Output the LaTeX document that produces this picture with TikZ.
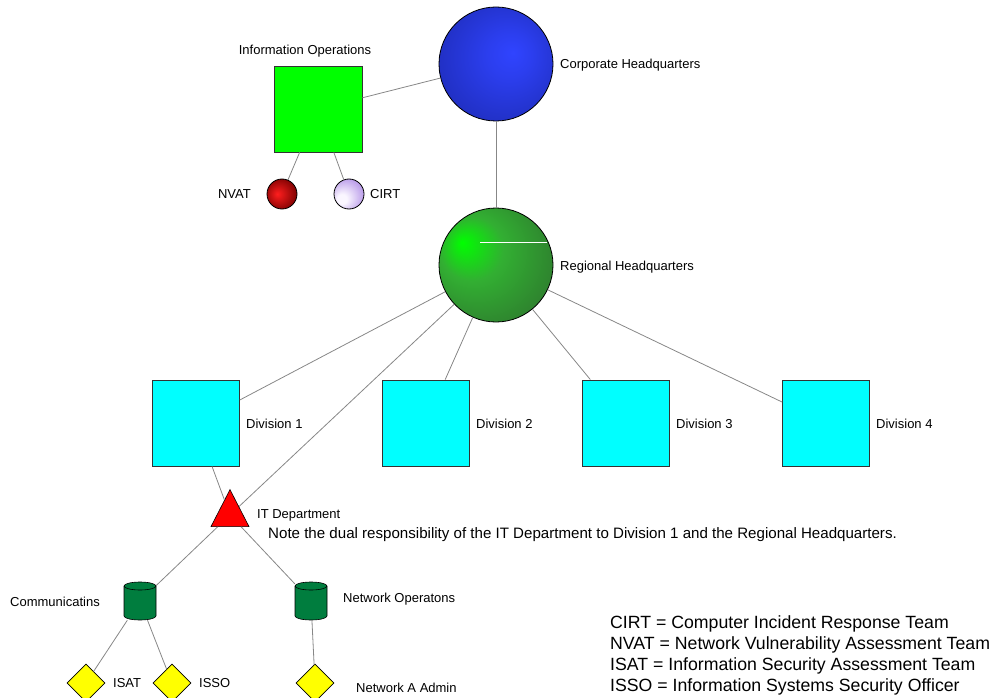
\documentclass[tikz,border=0pt]{standalone}
\usepackage{fontspec}
\setmainfont{Liberation Sans}
\usetikzlibrary{shapes.geometric}
\definecolor{lineGray}{RGB}{135,135,135}
\definecolor{opsGreen}{RGB}{0,255,0}
\definecolor{divCyan}{RGB}{0,255,255}
\definecolor{drumGreen}{RGB}{0,125,62}
\definecolor{adminYellow}{RGB}{255,255,0}
\definecolor{itRed}{RGB}{255,0,0}
\definecolor{corpLight}{RGB}{48,68,255}
\definecolor{corpDark}{RGB}{30,44,185}
\definecolor{regLight}{RGB}{0,255,0}
\definecolor{regMid}{RGB}{50,175,50}
\definecolor{regDark}{RGB}{45,110,45}
\definecolor{nvatLight}{RGB}{255,30,30}
\definecolor{nvatDark}{RGB}{120,0,0}
\definecolor{cirtLight}{RGB}{250,246,255}
\definecolor{cirtDark}{RGB}{160,120,225}

\pgfdeclareradialshading{corpShade}{\pgfpoint{7.5bp}{5bp}}{color(0bp)=(corpLight); color(10bp)=(corpLight!75!corpDark); color(34bp)=(corpDark); color(50bp)=(corpDark)}
\pgfdeclareradialshading{regShade}{\pgfpoint{-15bp}{10bp}}{color(0bp)=(regLight); color(14bp)=(regMid); color(40bp)=(regDark); color(50bp)=(regDark)}
\pgfdeclareradialshading{nvatShade}{\pgfpoint{-8bp}{0bp}}{color(0bp)=(nvatLight); color(30bp)=(nvatDark); color(50bp)=(nvatDark)}
\pgfdeclareradialshading{cirtShade}{\pgfpoint{-14bp}{-10bp}}{color(0bp)=(cirtLight); color(8bp)=(cirtLight); color(40bp)=(cirtDark); color(50bp)=(cirtDark)}

\tikzset{
  ball/.style={circle, draw=black, line width=0.8pt, inner sep=0pt, shade, shading=#1},
  unit/.style={rectangle, draw=black!80, line width=0.8pt, inner sep=0pt, fill=#1},
  drum/.style={rectangle, minimum width=32pt, minimum height=38pt, inner sep=0pt},
  drumBody/.style={draw=black, line width=0.6pt, fill=drumGreen},
  post/.style={diamond, draw=black, line width=0.6pt, fill=adminYellow, minimum width=38pt,
    minimum height=38pt, inner sep=0pt},
  link/.style={draw=lineGray, line width=0.8pt},
  lbl/.style={font=\fontsize{13}{15}\selectfont, inner sep=0pt, anchor=west},
}

\begin{document}
\begin{tikzpicture}[x=1pt, y=-1pt]
	\useasboundingbox (0,0) rectangle (993,698);

	% --- Leitung und Stab ---
	\node[ball=corpShade, minimum size=114pt] (chq) at (496,64) {};
	\node[ball=regShade, minimum size=114pt] (rhq) at (496,265) {};
	\node[unit=opsGreen, minimum width=88pt, minimum height=86pt] (infoOps) at (318,109) {};
	\node[ball=nvatShade, minimum size=30pt] (nvat) at (282,194) {};
	\node[ball=cirtShade, minimum size=30pt] (cirt) at (349,194) {};

	% --- Divisionen ---
	\node[unit=divCyan, minimum width=87pt, minimum height=86pt] (div1) at (196,423) {};
	\node[unit=divCyan, minimum width=87pt, minimum height=86pt] (div2) at (426,423) {};
	\node[unit=divCyan, minimum width=87pt, minimum height=86pt] (div3) at (626,423) {};
	\node[unit=divCyan, minimum width=87pt, minimum height=86pt] (div4) at (826,423) {};

	% --- IT-Abteilung ---
	\node[isosceles triangle, shape border rotate=90, isosceles triangle apex angle=54,
	      isosceles triangle stretches, minimum width=38pt, minimum height=37pt, inner sep=0pt,
	      draw=black, line width=0.6pt, fill=itRed] (itDept) at (230,515) {};
	\node[drum] (comms) at (140,601) {};
	\node[drum] (netOps) at (311,601) {};
	\foreach \d in {comms,netOps} {
		\draw[drumBody, shift={(\d.center)}] (-16,-15) -- (-16,15)
		  arc[start angle=180, end angle=360, x radius=16pt, y radius=4pt] -- (16,-15)
		  arc[start angle=0, end angle=180, x radius=16pt, y radius=4pt] -- cycle;
		\draw[drumBody, fill=none, shift={(\d.center)}] (-16,-15)
		  arc[start angle=180, end angle=360, x radius=16pt, y radius=4pt];
	}
	\node[post] (isat) at (86,683) {};
	\node[post] (isso) at (172,683) {};
	\node[post] (netAdmin) at (315,683) {};

	% --- Verbindungen ---
	\draw[link] (infoOps) -- (chq);
	\draw[link] (infoOps) -- (nvat);
	\draw[link] (infoOps) -- (cirt);
	\draw[link] (chq) -- (rhq);
	\draw[link] (rhq) -- (div1);
	\draw[link] (rhq) -- (div2);
	\draw[link] (rhq) -- (div3);
	\draw[link] (rhq) -- (div4);
	\draw[link] (rhq) -- (itDept);
	\draw[link] (div1) -- (itDept);
	\draw[link] (itDept) -- (comms);
	\draw[link] (itDept) -- (netOps);
	\draw[link] (comms) -- (isat);
	\draw[link] (comms) -- (isso);
	\draw[link] (netOps) -- (netAdmin);

	\draw[white, line width=1pt] (480,242) -- (547,242);

	% --- Beschriftungen ---
	\node[lbl, anchor=center] (infoOpsText) at (305,51) {Information Operations};
	\node[lbl] (chqText) at (560,65) {Corporate Headquarters};
	\node[lbl, anchor=east] (nvatText) at (251,194) {NVAT};
	\node[lbl] (cirtText) at (370,194) {CIRT};
	\node[lbl] (rhqText) at (560,267) {Regional Headquarters};
	\node[lbl] (div1Text) at (246,424) {Division 1};
	\node[lbl] (div2Text) at (476,424) {Division 2};
	\node[lbl] (div3Text) at (676,424) {Division 3};
	\node[lbl] (div4Text) at (876,424) {Division 4};
	\node[lbl] (itText) at (257,515) {IT Department};
	\node[lbl, font=\fontsize{15.1}{17}\selectfont] (noteText) at (268,535)
	  {Note the dual responsibility of the IT Department to Division 1 and the Regional Headquarters.};
	\node[lbl] (commsText) at (10,602) {Communicatins};
	\node[lbl] (netOpsText) at (343,599) {Network Operatons};
	\node[lbl] (isatText) at (113,683) {ISAT};
	\node[lbl] (issoText) at (199,683) {ISSO};
	\node[lbl] (netAdminText) at (356,688) {Network A Admin};

	% --- Legende ---
	\node[lbl, anchor=north west, align=left, font=\fontsize{17.7}{21}\selectfont] (legend) at (610,615)
	  {CIRT = Computer Incident Response Team\\
	   NVAT = Network Vulnerability Assessment Team\\
	   ISAT = Information Security Assessment Team\\
	   ISSO = Information Systems Security Officer};
\end{tikzpicture}
\end{document}
